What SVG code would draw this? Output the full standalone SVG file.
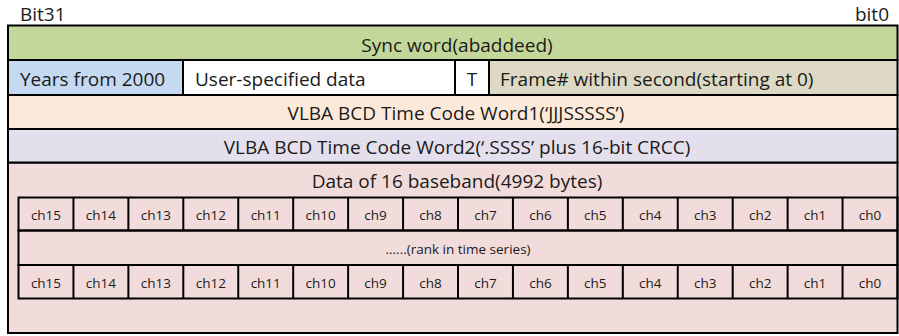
<svg xmlns="http://www.w3.org/2000/svg" width="899" height="336" viewBox="0 0 899 336">
  <style>
    .cell { stroke: #000; stroke-width: 2; }
    .t { font-family: "Open Sans", "Liberation Sans", sans-serif; font-size: 19px; fill: #1a1a1a; }
    .c { font-family: "Open Sans", "Liberation Sans", sans-serif; font-size: 13.5px; fill: #1a1a1a; text-anchor: middle; }
    .mid { text-anchor: middle; }
    .sync { fill: #c4d79b; }
    .years { fill: #c5d9f1; }
    .plain { fill: #ffffff; }
    .frame { fill: #ddd9c4; }
    .w1 { fill: #fde9d9; }
    .w2 { fill: #e4dfec; }
    .data { fill: #f2dcdb; }
  </style>

  <!-- bit order labels -->
  <g id="bit-labels">
    <text class="t" x="20" y="21">Bit31</text>
    <text class="t" x="889" y="21" text-anchor="end">bit0</text>
  </g>

  <!-- data area background (drawn first so the header rows sit on top) -->
  <g id="data-block">
    <rect class="cell data" x="8" y="162.5" width="889.5" height="170.5"/>
    <text class="t mid" x="457" y="187.5">Data of 16 baseband(4992 bytes)</text>
  </g>

  <g id="sync-word">
    <rect class="cell sync" x="8" y="25.5" width="889.5" height="34.5"/>
    <text class="t mid" x="457" y="51.5">Sync word(abaddeed)</text>
  </g>

  <g id="years">
    <rect class="cell years" x="8" y="60" width="175" height="35"/>
    <text class="t" x="20" y="86">Years from 2000</text>
  </g>

  <g id="user-data">
    <rect class="cell plain" x="183" y="60" width="272" height="35"/>
    <text class="t" x="195" y="86">User-specified data</text>
  </g>

  <g id="t-flag">
    <rect class="cell plain" x="455" y="60" width="34" height="35"/>
    <text class="t mid" x="472" y="86">T</text>
  </g>

  <g id="frame-number">
    <rect class="cell frame" x="489" y="60" width="408.5" height="35"/>
    <text class="t" x="500" y="86">Frame# within second(starting at 0)</text>
  </g>

  <g id="time-word1">
    <rect class="cell w1" x="8" y="95" width="889.5" height="34"/>
    <text class="t mid" x="456" y="120">VLBA BCD Time Code Word1(‘JJJSSSSS’)</text>
  </g>

  <g id="time-word2">
    <rect class="cell w2" x="8" y="129" width="889.5" height="33.5"/>
    <text class="t mid" x="457" y="153.5">VLBA BCD Time Code Word2(‘.SSSS’ plus 16-bit CRCC)</text>
  </g>

  <!-- first sample row: ch15 … ch0 -->
  <g id="channels-row1" fill="none">
    <rect class="cell" x="18.5" y="197.5" width="879" height="33"/>
    <path stroke="#000" stroke-width="2" d="M73.44 197.5V230.5M128.38 197.5V230.5M183.31 197.5V230.5M238.25 197.5V230.5M293.19 197.5V230.5M348.13 197.5V230.5M403.06 197.5V230.5M458 197.5V230.5M512.94 197.5V230.5M567.88 197.5V230.5M622.81 197.5V230.5M677.75 197.5V230.5M732.69 197.5V230.5M787.63 197.5V230.5M842.56 197.5V230.5"/>
    <text class="c" x="45.97" y="220">ch15</text>
    <text class="c" x="100.91" y="220">ch14</text>
    <text class="c" x="155.84" y="220">ch13</text>
    <text class="c" x="210.78" y="220">ch12</text>
    <text class="c" x="265.72" y="220">ch11</text>
    <text class="c" x="320.66" y="220">ch10</text>
    <text class="c" x="375.59" y="220">ch9</text>
    <text class="c" x="430.53" y="220">ch8</text>
    <text class="c" x="485.47" y="220">ch7</text>
    <text class="c" x="540.41" y="220">ch6</text>
    <text class="c" x="595.34" y="220">ch5</text>
    <text class="c" x="650.28" y="220">ch4</text>
    <text class="c" x="705.22" y="220">ch3</text>
    <text class="c" x="760.16" y="220">ch2</text>
    <text class="c" x="815.09" y="220">ch1</text>
    <text class="c" x="870.03" y="220">ch0</text>
  </g>

  <!-- repeated samples in between -->
  <g id="time-series">
    <rect class="cell" fill="none" x="18.5" y="230.5" width="879" height="34.5"/>
    <text class="c" x="458" y="254">......(rank in time series)</text>
  </g>

  <!-- last sample row: ch15 … ch0 -->
  <g id="channels-row2" fill="none">
    <rect class="cell" x="18.5" y="265" width="879" height="33.5"/>
    <path stroke="#000" stroke-width="2" d="M73.44 265V298.5M128.38 265V298.5M183.31 265V298.5M238.25 265V298.5M293.19 265V298.5M348.13 265V298.5M403.06 265V298.5M458 265V298.5M512.94 265V298.5M567.88 265V298.5M622.81 265V298.5M677.75 265V298.5M732.69 265V298.5M787.63 265V298.5M842.56 265V298.5"/>
    <text class="c" x="45.97" y="288">ch15</text>
    <text class="c" x="100.91" y="288">ch14</text>
    <text class="c" x="155.84" y="288">ch13</text>
    <text class="c" x="210.78" y="288">ch12</text>
    <text class="c" x="265.72" y="288">ch11</text>
    <text class="c" x="320.66" y="288">ch10</text>
    <text class="c" x="375.59" y="288">ch9</text>
    <text class="c" x="430.53" y="288">ch8</text>
    <text class="c" x="485.47" y="288">ch7</text>
    <text class="c" x="540.41" y="288">ch6</text>
    <text class="c" x="595.34" y="288">ch5</text>
    <text class="c" x="650.28" y="288">ch4</text>
    <text class="c" x="705.22" y="288">ch3</text>
    <text class="c" x="760.16" y="288">ch2</text>
    <text class="c" x="815.09" y="288">ch1</text>
    <text class="c" x="870.03" y="288">ch0</text>
  </g>
</svg>
